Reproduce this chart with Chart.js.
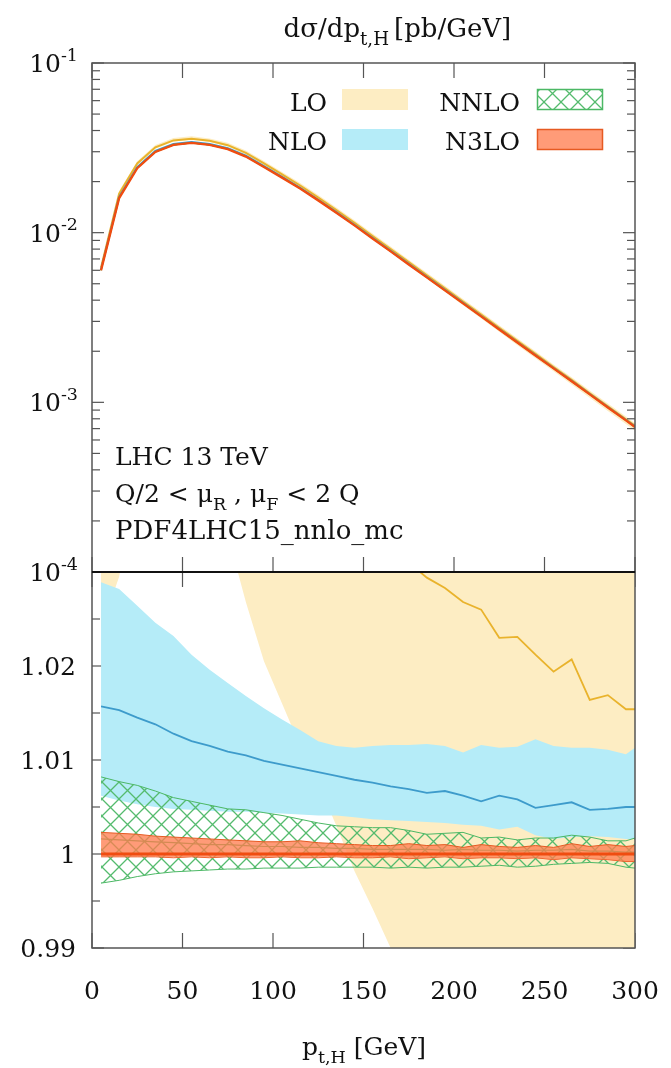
<!DOCTYPE html>
<html>
<head>
<meta charset="utf-8">
<script src="https://cdn.jsdelivr.net/npm/chart.js@4.4.1/dist/chart.umd.min.js"></script>
<style>
    html, body { margin: 0; padding: 0; background: #fff; }
    #wrap { position: relative; width: 671px; height: 1068px; }
    #wrap canvas { position: absolute; left: 0; top: 0; }
</style>
</head>
<body>
<div id="wrap">
    <canvas id="spectrumChart" width="671" height="1068"></canvas>
    <canvas id="ratioChart" width="671" height="1068"></canvas>
</div>
<script>
//Bin centres (GeV)
const ptBins = [5, 15, 25, 35, 45, 55, 65, 75, 85, 95, 105, 115, 125, 135, 145, 155, 165, 175, 185, 195,
    205, 215, 225, 235, 245, 255, 265, 275, 285, 295, 300];

//N3LO central dsigma/dpt (pb/GeV)
const n3loXsec = [6.0e-3, 1.60e-2, 2.40e-2, 2.99e-2, 3.29e-2, 3.38e-2, 3.29e-2, 3.11e-2, 2.81e-2, 2.44e-2,
    2.11e-2, 1.82e-2, 1.55e-2, 1.31e-2, 1.104e-2, 9.25e-3, 7.76e-3, 6.50e-3, 5.45e-3, 4.57e-3,
    3.83e-3, 3.21e-3, 2.69e-3, 2.25e-3, 1.89e-3, 1.585e-3, 1.33e-3, 1.114e-3, 9.33e-4, 7.83e-4, 7.16e-4];

//Each order normalised to N3LO central: scale band low / central / high
const loLow = [1.024, 1.0295, 1.040, 1.045, 1.046, 1.044, 1.040, 1.034, 1.0268, 1.0205,
    1.0160, 1.0115, 1.0075, 1.0030, 0.9982, 0.9942, 0.9900, 0.9860, 0.9820, 0.9785,
    0.9750, 0.9720, 0.9690, 0.9660, 0.9635, 0.9610, 0.9585, 0.9560, 0.9540, 0.9520, 0.9510];
const loMid = [1.040, 1.060, 1.065, 1.065, 1.063, 1.060, 1.057, 1.054, 1.051, 1.048,
    1.045, 1.042, 1.040, 1.038, 1.036, 1.034, 1.032, 1.031, 1.0294, 1.0283,
    1.0268, 1.0260, 1.0230, 1.0231, 1.0212, 1.0194, 1.0207, 1.0164, 1.0169, 1.0154, 1.0154];
const loHigh = [1.080, 1.100, 1.100, 1.100, 1.098, 1.095, 1.092, 1.089, 1.086, 1.083,
    1.080, 1.077, 1.075, 1.073, 1.071, 1.069, 1.067, 1.066, 1.064, 1.063,
    1.062, 1.061, 1.059, 1.059, 1.057, 1.056, 1.057, 1.053, 1.054, 1.052, 1.052];

const nloLow = [1.0062, 1.0057, 1.0053, 1.0050, 1.0048, 1.0047, 1.0046, 1.0045, 1.0045, 1.0044,
    1.0043, 1.0042, 1.0041, 1.0041, 1.0039, 1.0037, 1.0036, 1.0035, 1.0034, 1.0033,
    1.0031, 1.0030, 1.0026, 1.0029, 1.0020, 1.0016, 1.0018, 1.0019, 1.0018, 1.0016, 1.0016];
const nloMid = [1.0157, 1.0153, 1.0145, 1.0138, 1.0128, 1.0120, 1.0115, 1.0109, 1.0105, 1.0099,
    1.0095, 1.0091, 1.0087, 1.0083, 1.0079, 1.0076, 1.0072, 1.0069, 1.0065, 1.0067,
    1.0062, 1.0056, 1.0062, 1.0058, 1.0049, 1.0052, 1.0055, 1.0047, 1.0048, 1.0050, 1.0050];
const nloHigh = [1.0289, 1.0282, 1.0264, 1.0246, 1.0232, 1.0212, 1.0196, 1.0182, 1.0168, 1.0155,
    1.0143, 1.0132, 1.0120, 1.0115, 1.0113, 1.0115, 1.0116, 1.0116, 1.0117, 1.0115,
    1.0108, 1.0116, 1.0113, 1.0114, 1.0122, 1.0115, 1.0113, 1.0113, 1.0111, 1.0106, 1.0113];

const nnloLow = [0.9969, 0.9972, 0.9976, 0.9979, 0.9981, 0.9982, 0.9983, 0.9984, 0.9984, 0.9985,
    0.9985, 0.9985, 0.9986, 0.9986, 0.9986, 0.9986, 0.9985, 0.9986, 0.9985, 0.9986,
    0.9986, 0.9987, 0.9988, 0.9986, 0.9987, 0.9989, 0.9990, 0.9991, 0.9990, 0.9986, 0.9985];
const nnloMid = [1.0016, 1.0015, 1.0014, 1.0013, 1.0012, 1.0011, 1.0010, 1.0010, 1.0009, 1.0008,
    1.0008, 1.0007, 1.0007, 1.0006, 1.0006, 1.0005, 1.0005, 1.0005, 1.0005, 1.0004,
    1.0005, 1.0004, 1.0004, 1.0003, 1.0004, 1.0004, 1.0005, 1.0003, 1.0003, 1.0002, 1.0002];
const nnloHigh = [1.0082, 1.0077, 1.0073, 1.0067, 1.0060, 1.0056, 1.0052, 1.0048, 1.0047, 1.0044,
    1.0041, 1.0037, 1.0033, 1.0030, 1.0029, 1.0028, 1.0028, 1.0025, 1.0021, 1.0022,
    1.0023, 1.0017, 1.0018, 1.0015, 1.0017, 1.0017, 1.0020, 1.0018, 1.0014, 1.0014, 1.0017];

const n3loLow = [0.9997, 0.9997, 0.9997, 0.9997, 0.9996, 0.9997, 0.9996, 0.9997, 0.9996, 0.9996,
    0.9997, 0.9996, 0.9996, 0.9997, 0.9996, 0.9996, 0.9997, 0.9995, 0.9996, 0.9997,
    0.9995, 0.9996, 0.9996, 0.9995, 0.9996, 0.9994, 0.9996, 0.9995, 0.9994, 0.9992, 0.9992];
const n3loMid = n3loXsec.map(() => 1); //reference normalisation
const n3loHigh = [1.0023, 1.0022, 1.0021, 1.0019, 1.0018, 1.0017, 1.0016, 1.0015, 1.0014, 1.0013,
    1.0013, 1.0014, 1.0012, 1.0011, 1.0010, 1.0009, 1.0009, 1.0011, 1.0009, 1.0010,
    1.0007, 1.0010, 1.0008, 1.0007, 1.0009, 1.0007, 1.0011, 1.0008, 1.0010, 1.0008, 1.0009];

//Axis ticks
const xTicks = [0, 50, 100, 150, 200, 250, 300];
const xsecDecades = [1e-4, 1e-3, 1e-2, 1e-1];
const ratioTicks = [0.99, 1, 1.01, 1.02, 1.03];
const ratioMinor = [0.995, 1.005, 1.015, 1.025];
const ratioLabels = ['0.99', '1', '1.01', '1.02'];

const FONT = '"DejaVu Serif", "Liberation Serif", serif';
const W = 671, H = 1068;
const LEFT = 92, RIGHT = 635, TOP = 63, MID = 572, BOTTOM = 948;

const colors = {
    lo: { fill: '#fdedc3', line: '#e9b32c' },
    nlo: { fill: '#b5ecf8', line: '#3d9bcb' },
    nnlo: { line: '#4cb865', hatch: '#55bb6e' },
    n3lo: { fill: 'rgba(255, 124, 78, 0.76)', edge: '#e65a22', line: '#f04c10' }
};

//Cross-hatch for the NNLO band
function makeHatch() {
    const s = 17;
    const c = document.createElement('canvas');
    c.width = s; c.height = s;
    const g = c.getContext('2d');
    g.strokeStyle = colors.nnlo.hatch;
    g.lineWidth = 1.3;
    [-s, 0, s].forEach(o => {
        g.beginPath();
        g.moveTo(o, 0); g.lineTo(o + s, s);
        g.moveTo(o, s); g.lineTo(o + s, 0);
        g.stroke();
    });
    return g.createPattern(c, 'repeat');
}
const hatch = makeHatch();

//Three datasets per order: central line, upper edge (filled to lower), lower edge
function orderSets(name, low, mid, high, toY, style) {
    const pts = arr => ptBins.map((x, i) => ({ x: x, y: toY(arr[i], i) }));
    const edge = style.edge || 'rgba(0,0,0,0)';
    return [
        { label: name, data: pts(mid), borderColor: style.line, borderWidth: style.width, fill: false },
        { label: name + ' high', data: pts(high), borderColor: edge, borderWidth: 1,
          backgroundColor: style.fill, fill: '+1' },
        { label: name + ' low', data: pts(low), borderColor: edge, borderWidth: 1, fill: false }
    ];
}

function allSets(toY, big) {
    return [
        ...orderSets('N3LO', n3loLow, n3loMid, n3loHigh, toY,
            { line: colors.n3lo.line, width: big ? 3 : 2.4, fill: colors.n3lo.fill, edge: colors.n3lo.edge }),
        ...orderSets('NNLO', nnloLow, nnloMid, nnloHigh, toY,
            { line: colors.nnlo.line, width: 1.2, fill: hatch, edge: colors.nnlo.line }),
        ...orderSets('NLO', nloLow, nloMid, nloHigh, toY,
            { line: colors.nlo.line, width: big ? 1.8 : 2, fill: colors.nlo.fill }),
        ...orderSets('LO', loLow, loMid, loHigh, toY,
            { line: colors.lo.line, width: big ? 1.8 : 2, fill: colors.lo.fill })
    ];
}

//Text with sub/superscript pieces: parts = [[text, 'sub'|'sup'|null], ...]
function drawRich(ctx, parts, x, y, size, align) {
    const small = size * 0.7;
    const widths = parts.map(p => {
        ctx.font = (p[1] ? small : size) + 'px ' + FONT;
        return ctx.measureText(p[0]).width;
    });
    const total = widths.reduce((a, b) => a + b, 0);
    let cx = align === 'right' ? x - total : align === 'center' ? x - total / 2 : x;
    ctx.textAlign = 'left';
    ctx.textBaseline = 'alphabetic';
    parts.forEach((p, i) => {
        ctx.font = (p[1] ? small : size) + 'px ' + FONT;
        const dy = p[1] === 'sub' ? size * 0.3 : p[1] === 'sup' ? -size * 0.45 : 0;
        ctx.fillText(p[0], cx, y + dy);
        cx += widths[i];
    });
}

function tick(ctx, x1, y1, x2, y2) {
    ctx.beginPath();
    ctx.moveTo(x1, y1);
    ctx.lineTo(x2, y2);
    ctx.stroke();
}

//Inward ticks on all four sides
function drawTicks(chart, yMajor, yMinor, mirrorY) {
    const { ctx, chartArea: a, scales } = chart;
    ctx.save();
    ctx.strokeStyle = '#555';
    ctx.lineWidth = 1.2;
    xTicks.forEach(v => {
        const x = scales.x.getPixelForValue(v);
        tick(ctx, x, a.bottom, x, a.bottom - 15);
        tick(ctx, x, a.top, x, a.top + 15);
    });
    yMajor.forEach(v => {
        const y = scales.y.getPixelForValue(v);
        tick(ctx, a.left, y, a.left + 12, y);
        if (mirrorY) tick(ctx, a.right, y, a.right - 12, y);
    });
    yMinor.forEach(v => {
        const y = scales.y.getPixelForValue(v);
        tick(ctx, a.left, y, a.left + 8, y);
        if (mirrorY) tick(ctx, a.right, y, a.right - 8, y);
    });
    ctx.restore();
}

function drawFrame(chart, color, width) {
    const { ctx, chartArea: a } = chart;
    ctx.save();
    ctx.strokeStyle = color;
    ctx.lineWidth = width;
    ctx.strokeRect(a.left, a.top, a.right - a.left, a.bottom - a.top);
    ctx.restore();
}

function legendBox(ctx, x, y, fill, edge) {
    ctx.fillStyle = fill;
    ctx.fillRect(x, y, 66, 21);
    if (edge) {
        ctx.strokeStyle = edge;
        ctx.lineWidth = 1.5;
        ctx.strokeRect(x + 0.5, y + 0.5, 65, 20);
    }
}

const spectrumDecor = {
    id: 'spectrumDecor',
    afterDraw(chart) {
        const { ctx, scales } = chart;
        const minors = [];
        xsecDecades.slice(0, 3).forEach(d => {
            for (let k = 2; k <= 9; k++) minors.push(k * d);
        });
        drawTicks(chart, xsecDecades, minors, true);
        drawFrame(chart, '#555', 1.5);

        ctx.save();
        ctx.fillStyle = '#111';
        //Power-of-ten labels
        xsecDecades.forEach(v => {
            const y = scales.y.getPixelForValue(v);
            drawRich(ctx, [['10', null], [String(Math.round(Math.log10(v))), 'sup']], 78, y + 9, 25, 'right');
        });

        //Title
        drawRich(ctx, [['dσ/dp', null], ['t,H', 'sub']], 389, 37, 26, 'right');
        drawRich(ctx, [['[pb/GeV]', null]], 394, 37, 26, 'left');

        //Legend
        drawRich(ctx, [['LO', null]], 327, 111, 25, 'right');
        drawRich(ctx, [['NLO', null]], 327, 150, 25, 'right');
        drawRich(ctx, [['NNLO', null]], 520, 111, 25, 'right');
        drawRich(ctx, [['N3LO', null]], 520, 150, 25, 'right');
        legendBox(ctx, 342, 89, colors.lo.fill);
        legendBox(ctx, 342, 129, colors.nlo.fill);
        legendBox(ctx, 537, 89, hatch, colors.nnlo.line);
        legendBox(ctx, 537, 129, colors.n3lo.fill, colors.n3lo.edge);

        //Setup notes
        ctx.fillStyle = '#111';
        drawRich(ctx, [['LHC 13 TeV', null]], 115, 465, 25, 'left');
        drawRich(ctx, [['Q/2 < μ', null], ['R', 'sub'], [' , μ', null], ['F', 'sub'], [' < 2 Q', null]], 115, 502, 25, 'left');
        drawRich(ctx, [['PDF4LHC15_nnlo_mc', null]], 115, 539, 26, 'left');
        ctx.restore();
    }
};

const ratioDecor = {
    id: 'ratioDecor',
    beforeDatasetsDraw(chart) {
        drawTicks(chart, ratioTicks, ratioMinor, true);
    },
    afterDraw(chart) {
        const { ctx, chartArea: a, scales } = chart;
        drawFrame(chart, '#555', 1.5);
        ctx.save();
        ctx.strokeStyle = '#111';
        ctx.lineWidth = 2;
        tick(ctx, a.left, a.top, a.right, a.top);

        ctx.fillStyle = '#111';
        ratioLabels.forEach(t => {
            const y = scales.y.getPixelForValue(parseFloat(t));
            drawRich(ctx, [[t, null]], 76, y + 9, 25, 'right');
        });
        xTicks.forEach(v => {
            drawRich(ctx, [[String(v), null]], scales.x.getPixelForValue(v), 999, 25, 'center');
        });
        drawRich(ctx, [['p', null], ['t,H', 'sub'], [' [GeV]', null]], 364, 1055, 25, 'center');
        ctx.restore();
    }
};

function baseOptions(padTop, padBottom, yScale) {
    return {
        responsive: false,
        animation: false,
        devicePixelRatio: 1,
        layout: { padding: { left: LEFT, right: W - RIGHT, top: padTop, bottom: padBottom } },
        plugins: { legend: { display: false }, tooltip: { enabled: false } },
        elements: { point: { radius: 0 }, line: { tension: 0 } },
        datasets: { line: { clip: 0 } },
        scales: {
            x: { type: 'linear', min: 0, max: 300, display: false },
            y: yScale
        }
    };
}

//Spectrum panel (log)
new Chart(document.getElementById('spectrumChart').getContext('2d'), {
    type: 'line',
    data: { datasets: allSets((r, i) => r * n3loXsec[i], false) },
    options: baseOptions(TOP, H - MID, { type: 'logarithmic', min: 1e-4, max: 1e-1, display: false }),
    plugins: [spectrumDecor]
});

//Ratio panel
new Chart(document.getElementById('ratioChart').getContext('2d'), {
    type: 'line',
    data: { datasets: allSets(r => r, true) },
    options: baseOptions(MID, H - BOTTOM, { type: 'linear', min: 0.99, max: 1.03, display: false }),
    plugins: [ratioDecor]
});
</script>
</body>
</html>
